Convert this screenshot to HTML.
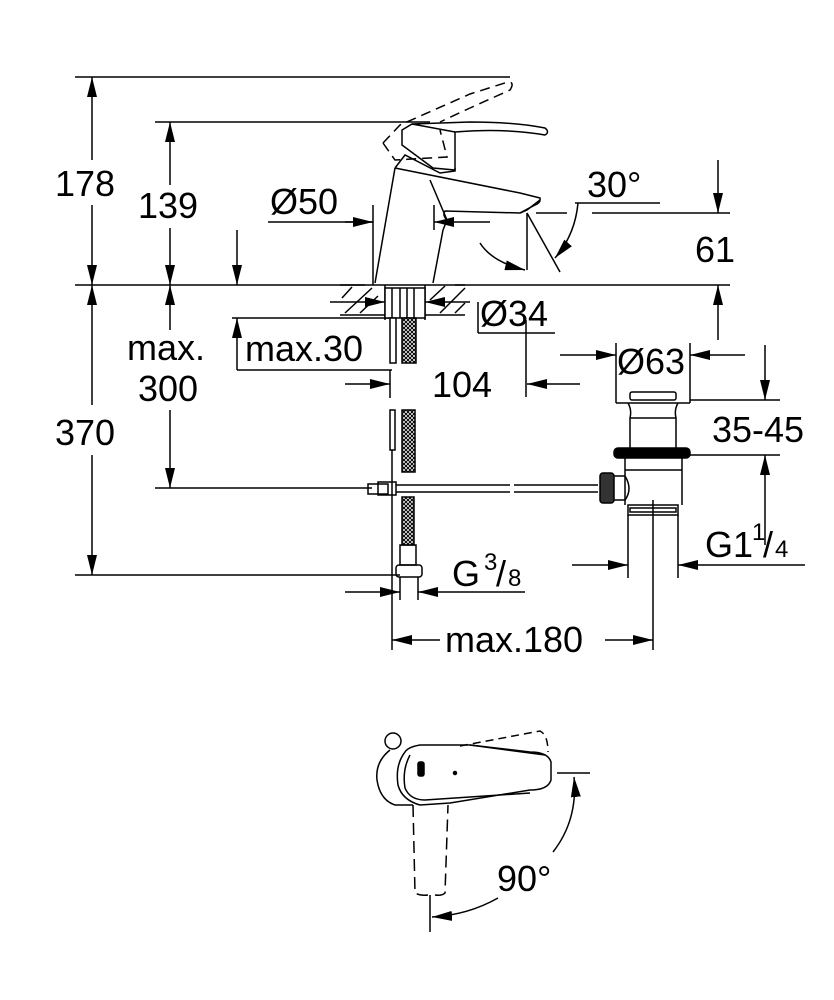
<!DOCTYPE html>
<html><head><meta charset="utf-8"><style>
html,body{margin:0;padding:0;background:#fff}
svg{display:block}
text{font-family:"Liberation Sans",Arial,sans-serif;fill:#000}
</style></head><body>
<svg width="834" height="1000" viewBox="0 0 834 1000" xmlns="http://www.w3.org/2000/svg">
<defs>
<marker id="a" viewBox="0 0 20 10" refX="20" refY="5" markerWidth="20" markerHeight="10" markerUnits="userSpaceOnUse" orient="auto"><path d="M0,0 L20,5 L0,10 Z" fill="#000"/></marker>
<pattern id="h" width="4" height="4" patternUnits="userSpaceOnUse"><rect width="4" height="4" fill="#fff"/><path d="M0,0 L4,4 M4,0 L0,4" stroke="#000" stroke-width="1"/></pattern>
</defs>
<g stroke="#000" stroke-width="1.5" fill="none">
<line x1="75" y1="77" x2="510" y2="77"/>
<line x1="155" y1="122" x2="430" y2="122"/>
<line x1="75" y1="285" x2="365" y2="285"/>
<line x1="455" y1="285" x2="730" y2="285"/>
<line x1="75" y1="575" x2="400" y2="575"/>
<line x1="155" y1="488" x2="372" y2="488"/>
<line x1="92" y1="160" x2="92" y2="77" marker-end="url(#a)"/>
<line x1="92" y1="205" x2="92" y2="285" marker-end="url(#a)"/>
<line x1="170" y1="185" x2="170" y2="122" marker-end="url(#a)"/>
<line x1="170" y1="228" x2="170" y2="285" marker-end="url(#a)"/>
<line x1="92" y1="405" x2="92" y2="285" marker-end="url(#a)"/>
<line x1="92" y1="455" x2="92" y2="575" marker-end="url(#a)"/>
<line x1="170" y1="330" x2="170" y2="285" marker-end="url(#a)"/>
<line x1="170" y1="410" x2="170" y2="488" marker-end="url(#a)"/>
<line x1="237" y1="230" x2="237" y2="285" marker-end="url(#a)"/>
<line x1="237" y1="370" x2="237" y2="318" marker-end="url(#a)"/>
<line x1="232" y1="318" x2="392" y2="318"/>
<line x1="237" y1="370" x2="392" y2="370"/>
<line x1="268" y1="222" x2="373" y2="222"/>
<line x1="345" y1="222" x2="373" y2="222" marker-end="url(#a)"/>
<line x1="490" y1="222" x2="434" y2="222" marker-end="url(#a)"/>
<line x1="373" y1="205" x2="373" y2="285"/>
<line x1="434" y1="205" x2="434" y2="230"/>
<path d="M395,168 L375,283 M443,230 L433,283"/>
<path d="M395,168 L405,155 L440,173 L455,171 L455,168 M395,168 L520,193 L540,198 Q541,203 535,205 L520,213 L445,211 Q442,215 447,220 L443,230 M430,180 L447,220"/>
<path d="M520,213 L527,210 L540,200" />
<path d="M402,130 L412,124 L470,122 Q515,122 545,128 Q550,132 545,135 Q505,128 455,132 L455,170 L433,168 L402,145 Z"/>
<path d="M412,124 L455,132"/>
<path stroke-dasharray="10,6" d="M383,143 L400,125 L470,94 L508,82 Q515,82 510,90 L470,108 L440,122 M383,143 L395,160 L447,157 L440,130"/>
<line x1="527" y1="213" x2="560" y2="272"/>
<line x1="527" y1="213" x2="527" y2="270"/>
<line x1="536" y1="213" x2="567" y2="213"/>
<line x1="592" y1="213" x2="730" y2="213"/>
<line x1="575" y1="203" x2="660" y2="203"/>
<path d="M578,203 Q575,235 555,258" marker-end="url(#a)"/>
<path d="M480,243 Q492,262 525,270" marker-end="url(#a)"/>
<line x1="718" y1="160" x2="718" y2="213" marker-end="url(#a)"/>
<line x1="718" y1="340" x2="718" y2="285" marker-end="url(#a)"/>
<line x1="340" y1="285" x2="465" y2="285"/>
<line x1="340" y1="315" x2="465" y2="315"/>
<path d="M342,298 L352,287 M345,313 L372,288 M360,313 L378,296 M430,300 L445,286 M440,313 L465,288 M455,313 L465,303"/>
<line x1="385" y1="285" x2="385" y2="320"/>
<line x1="425" y1="285" x2="425" y2="320"/>
<rect x="385" y="288" width="40" height="30" fill="#fff"/>
<line x1="392" y1="288" x2="392" y2="318"/>
<line x1="400" y1="288" x2="400" y2="318"/>
<line x1="407" y1="288" x2="407" y2="318"/>
<line x1="414" y1="288" x2="414" y2="318"/>
<line x1="330" y1="302" x2="385" y2="302" marker-end="url(#a)"/>
<line x1="470" y1="302" x2="425" y2="302" marker-end="url(#a)"/>
<line x1="478" y1="302" x2="478" y2="333"/>
<line x1="478" y1="333" x2="555" y2="333"/>
<rect x="390" y="318" width="6" height="45" fill="#fff"/>
<rect x="402" y="318" width="14" height="45" fill="url(#h)"/>
<rect x="390" y="410" width="5" height="40"/>
<rect x="402" y="410" width="13" height="62" fill="url(#h)"/>
<line x1="392" y1="450" x2="392" y2="650"/>
<rect x="402" y="497" width="12" height="48" fill="url(#h)"/>
<rect x="400" y="545" width="16" height="20"/>
<rect x="396" y="565" width="26" height="12" rx="3"/>
<line x1="400" y1="577" x2="400" y2="600"/>
<line x1="418" y1="577" x2="418" y2="600"/>
<rect x="368" y="484" width="20" height="10"/>
<rect x="378" y="482" width="18" height="13"/>
<path d="M396,485 L510,485 M396,492 L510,492 M514,485 L598,485 M514,492 L598,492"/>
<line x1="345" y1="384" x2="390" y2="384" marker-end="url(#a)"/>
<line x1="580" y1="384" x2="527" y2="384" marker-end="url(#a)"/>
<line x1="526" y1="320" x2="526" y2="397"/>
<line x1="390" y1="370" x2="390" y2="398"/>
<line x1="560" y1="355" x2="616" y2="355" marker-end="url(#a)"/>
<line x1="745" y1="355" x2="690" y2="355" marker-end="url(#a)"/>
<line x1="616" y1="343" x2="616" y2="403"/>
<line x1="690" y1="343" x2="690" y2="403"/>
<rect x="630" y="392" width="46" height="8" rx="2"/>
<path d="M616,403 L690,403 M628,403 Q632,410 630,418 L630,448 M678,403 Q674,410 676,418 L676,448 M630,418 L676,418"/>
<rect x="614" y="448" width="76" height="10" rx="4" fill="#000"/>
<path d="M625,458 L625,505 M682,458 L682,505 M625,470 L682,470"/>
<rect x="628" y="505" width="50" height="10"/>
<rect x="630" y="508" width="46" height="4"/>
<rect x="600" y="473" width="14" height="30" rx="3" fill="#333"/>
<path d="M614,476 L625,476 Q633,489 625,500 L614,500"/>
<line x1="628" y1="515" x2="628" y2="578"/>
<line x1="678" y1="515" x2="678" y2="578"/>
<line x1="653" y1="500" x2="653" y2="650"/>
<line x1="690" y1="400" x2="780" y2="400"/>
<line x1="690" y1="455" x2="780" y2="455"/>
<line x1="765" y1="345" x2="765" y2="400" marker-end="url(#a)"/>
<line x1="765" y1="545" x2="765" y2="455" marker-end="url(#a)"/>
<line x1="572" y1="565" x2="628" y2="565" marker-end="url(#a)"/>
<line x1="805" y1="565" x2="678" y2="565" marker-end="url(#a)"/>
<line x1="345" y1="592" x2="400" y2="592" marker-end="url(#a)"/>
<line x1="525" y1="592" x2="418" y2="592" marker-end="url(#a)"/>
<line x1="440" y1="640" x2="392" y2="640" marker-end="url(#a)"/>
<line x1="605" y1="640" x2="653" y2="640" marker-end="url(#a)"/>
<circle cx="393" cy="741" r="8"/>
<path d="M390,750 Q375,762 377,780 Q380,800 395,805 L413,805"/>
<path d="M405,752 Q395,765 398,785 Q402,800 420,805 L450,803 L530,790 Q548,790 551,780 L551,762 Q548,752 530,752 L470,745 L420,745 Q408,747 405,752"/>
<path d="M410,755 Q402,770 405,788 Q410,800 425,800 L530,793"/>
<path d="M470,745 L545,755"/>
<rect x="418" y="762" width="6" height="14" rx="2" fill="#000"/>
<circle cx="455" cy="773" r="1.5" fill="#000"/>
<path stroke-dasharray="8,5" d="M460,746 L540,731 Q548,735 548,752"/>
<path stroke-dasharray="12,6" d="M413,805 L415,893 Q420,896 428,895 M435,895 Q442,896 445,893 L448,805"/>
<line x1="557" y1="773" x2="590" y2="773"/>
<path d="M553,852 Q578,820 574,777" marker-end="url(#a)"/>
<line x1="430" y1="895" x2="430" y2="932"/>
<path d="M498,898 Q468,915 432,917" marker-end="url(#a)"/>
</g>
<g font-size="36">
<text x="55" y="196">178</text>
<text x="138" y="218">139</text>
<text x="270" y="214">Ø50</text>
<text x="587" y="197">30°</text>
<text x="695" y="262">61</text>
<text x="480" y="326">Ø34</text>
<text x="127" y="360">max.</text>
<text x="138" y="401">300</text>
<text x="245" y="361">max.30</text>
<text x="617" y="374">Ø63</text>
<text x="432" y="397">104</text>
<text x="55" y="445">370</text>
<text x="712" y="442">35-45</text>
<text x="705" y="557">G1</text>
<text x="752" y="540" font-size="24">1</text>
<text x="763" y="557">/</text>
<text x="775" y="557" font-size="24">4</text>
<text x="452" y="586">G</text>
<text x="484" y="570" font-size="24">3</text>
<text x="496" y="586">/</text>
<text x="508" y="586" font-size="24">8</text>
<text x="445" y="652">max.180</text>
<text x="497" y="891">90°</text>
</g>
</svg>
</body></html>
